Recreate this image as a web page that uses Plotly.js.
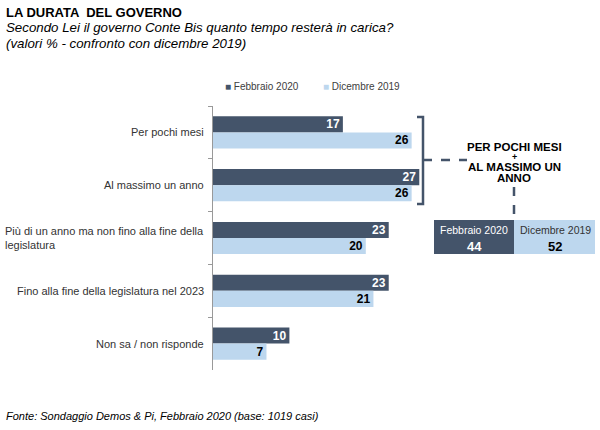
<!DOCTYPE html>
<html>
<head>
<meta charset="utf-8">
<script src="https://cdn.plot.ly/plotly-3.0.1.min.js"></script>
<style>
  html, body { margin: 0; padding: 0; background: #fff; }
  #chart { width: 600px; height: 430px; }
</style>
</head>
<body>
<div id="chart"></div>
<script>
/*
! Dati
*/
var categorie = [
  'Per pochi mesi',
  'Al massimo un anno',
  'Più di un anno ma non fino alla fine della<br>legislatura',
  'Fino alla fine della legislatura nel 2023',
  'Non sa / non risponde'
];
var febbraio2020 = [17, 27, 23, 23, 10];
var dicembre2019 = [26, 26, 20, 21, 7];
var serie = ['Febbraio 2020', 'Dicembre 2019'];

// somma "per pochi mesi" + "al massimo un anno"
var totFeb = febbraio2020[0] + febbraio2020[1];
var totDic = dicembre2019[0] + dicembre2019[1];

/*
! Layout helpers (pixel -> paper)
*/
var scuro = '#44546a';
var chiaro = '#bdd7ee';
var font = 'Arial, "Liberation Sans", sans-serif';
var W = 600, H = 430, L = 213, R = 5, T = 106, B = 60;
function px(x) { return (x - L) / (W - L - R); }
function py(y) { return (H - B - y) / (H - T - B); }

var traces = [
  {
    name: serie[0],
    type: 'bar',
    orientation: 'h',
    y: categorie,
    x: febbraio2020,
    marker: { color: scuro },
    texttemplate: '<b>%{x}</b>',
    textposition: 'inside',
    insidetextanchor: 'end',
    textangle: 0,
    constraintext: 'none',
    textfont: { color: '#ffffff', size: 12, family: font },
    hoverinfo: 'none'
  },
  {
    name: serie[1],
    type: 'bar',
    orientation: 'h',
    y: categorie,
    x: dicembre2019,
    marker: { color: chiaro },
    texttemplate: '<b>%{x}</b>',
    textposition: 'inside',
    insidetextanchor: 'end',
    textangle: 0,
    constraintext: 'none',
    textfont: { color: '#000000', size: 12, family: font },
    hoverinfo: 'none'
  }
];

var annotations = [
  { text: '<b>LA DURATA  DEL GOVERNO</b>', x: px(4), y: py(3), xanchor: 'left', yanchor: 'top',
    font: { size: 13, color: '#000' } },
  { text: '<i>Secondo Lei il governo Conte Bis quanto tempo resterà in carica?</i>', x: px(4), y: py(18), xanchor: 'left', yanchor: 'top',
    font: { size: 13.3, color: '#000' } },
  { text: '<i>(valori % - confronto con dicembre 2019)</i>', x: px(4), y: py(34), xanchor: 'left', yanchor: 'top',
    font: { size: 13.3, color: '#000' } },
  { text: '<i>Fonte: Sondaggio Demos & Pi, Febbraio 2020 (base: 1019 casi)</i>', x: px(4), y: py(416), xanchor: 'left', yanchor: 'middle',
    font: { size: 11, color: '#000' } },
  // legenda
  { text: '<span style="color:' + scuro + '">■</span> ' + serie[0], x: px(223), y: py(86), xanchor: 'left', yanchor: 'middle',
    font: { size: 10, color: '#404040' } },
  { text: '<span style="color:' + chiaro + '">■</span> ' + serie[1], x: px(321), y: py(86), xanchor: 'left', yanchor: 'middle',
    font: { size: 10, color: '#404040' } },
  // testo centrale
  { text: '<b>PER POCHI MESI</b>', x: px(514), y: py(147), xanchor: 'center', yanchor: 'middle', font: { size: 11.5, color: '#000' } },
  { text: '<b>+</b>', x: px(514), y: py(157), xanchor: 'center', yanchor: 'middle', font: { size: 9, color: '#000' } },
  { text: '<b>AL MASSIMO UN</b>', x: px(514), y: py(167), xanchor: 'center', yanchor: 'middle', font: { size: 11.5, color: '#000' } },
  { text: '<b>ANNO</b>', x: px(514), y: py(178), xanchor: 'center', yanchor: 'middle', font: { size: 11.5, color: '#000' } },
  // box totali
  { text: serie[0], x: px(474), y: py(230), xanchor: 'center', yanchor: 'middle', font: { size: 10.5, color: '#fff' } },
  { text: '<b>' + totFeb + '</b>', x: px(474), y: py(246), xanchor: 'center', yanchor: 'middle', font: { size: 13, color: '#fff' } },
  { text: serie[1], x: px(555), y: py(230), xanchor: 'center', yanchor: 'middle', font: { size: 10.5, color: '#333' } },
  { text: '<b>' + totDic + '</b>', x: px(555), y: py(246), xanchor: 'center', yanchor: 'middle', font: { size: 13, color: '#000' } }
];

// etichette categorie (allineate a sinistra su più righe)
categorie.forEach(function (c) {
  annotations.push({
    text: c, xref: 'paper', yref: 'y', x: px(206), y: c,
    xanchor: 'right', yanchor: 'middle', align: 'left',
    font: { size: 11, color: '#333' }
  });
});
annotations.forEach(function (a) {
  if (!a.xref) a.xref = 'paper';
  if (!a.yref) a.yref = 'paper';
  a.showarrow = false;
});

var linea = { color: scuro, width: 2.5 };
var tratteggio = { color: scuro, width: 2.5, dash: 'dash' };
var shapes = [
  // parentesi
  { type: 'path', path: 'M' + px(417) + ',' + py(117) + ' L' + px(423) + ',' + py(117) + ' L' + px(423) + ',' + py(204) + ' L' + px(417) + ',' + py(204),
    line: linea },
  { type: 'line', x0: px(423), x1: px(467), y0: py(160), y1: py(160), line: tratteggio },
  { type: 'line', x0: px(514), x1: px(514), y0: py(187), y1: py(219), line: tratteggio },
  // box
  { type: 'rect', x0: px(434), x1: px(514), y0: py(220), y1: py(254), fillcolor: scuro, line: { width: 0 } },
  { type: 'rect', x0: px(514), x1: px(595), y0: py(220), y1: py(254), fillcolor: chiaro, line: { width: 0 } }
];
shapes.forEach(function (s) { s.xref = 'paper'; s.yref = 'paper'; s.layer = 'above'; });

var layout = {
  width: W,
  height: H,
  margin: { l: L, r: R, t: T, b: B },
  paper_bgcolor: '#fff',
  plot_bgcolor: '#fff',
  font: { family: font, size: 11, color: '#333' },
  barmode: 'group',
  bargap: 0.39,
  bargroupgap: 0,
  showlegend: false,
  xaxis: { range: [0, 50], visible: false, fixedrange: true },
  yaxis: {
    type: 'category',
    range: [4.5, -0.5],
    showticklabels: false,
    ticks: 'outside',
    tickson: 'boundaries',
    ticklen: 4,
    tickcolor: '#999',
    showline: true,
    linecolor: '#999',
    linewidth: 1,
    showgrid: false,
    zeroline: false,
    fixedrange: true
  },
  annotations: annotations,
  shapes: shapes
};

Plotly.newPlot('chart', traces, layout, { displayModeBar: false, staticPlot: true });
</script>
</body>
</html>
